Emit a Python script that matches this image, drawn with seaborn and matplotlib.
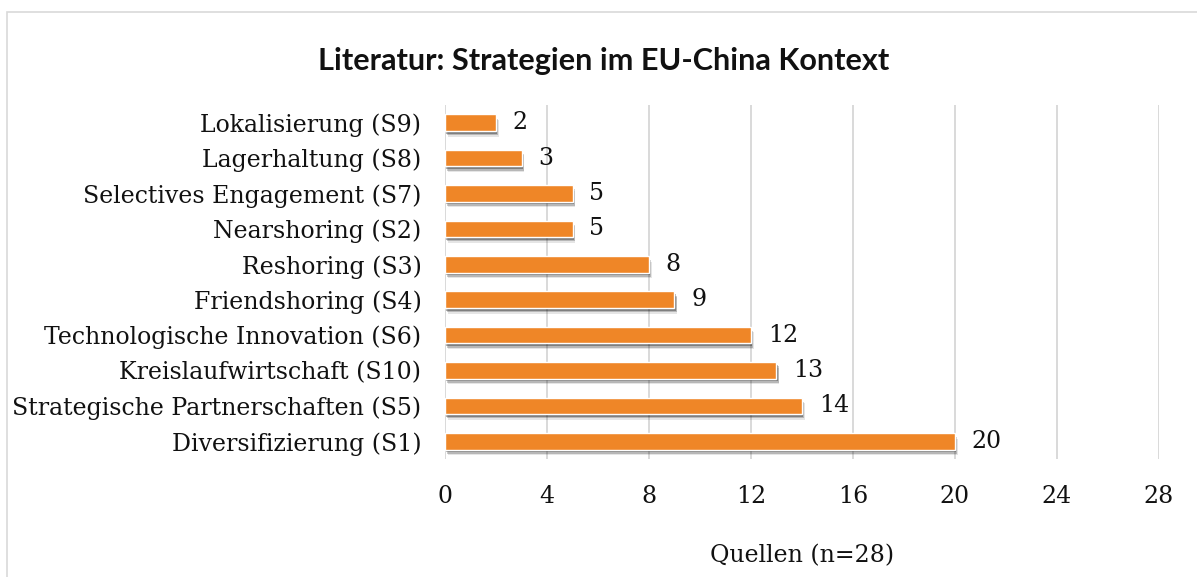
import matplotlib
matplotlib.use("Agg")
import matplotlib.pyplot as plt
import matplotlib.patheffects as pe
from matplotlib.patches import Rectangle
import pandas as pd
import seaborn as sns

# data, top to bottom as in the chart
strategies = [
    "Lokalisierung (S9)",
    "Lagerhaltung (S8)",
    "Selectives Engagement (S7)",
    "Nearshoring (S2)",
    "Reshoring (S3)",
    "Friendshoring (S4)",
    "Technologische Innovation (S6)",
    "Kreislaufwirtschaft (S10)",
    "Strategische Partnerschaften (S5)",
    "Diversifizierung (S1)",
]
sources = [2, 3, 5, 5, 8, 9, 12, 13, 14, 20]
x_ticks = [0, 4, 8, 12, 16, 20, 24, 28]

df = pd.DataFrame({"strategy": strategies, "count": sources})

sns.set_theme(style="white")
plt.rcParams["font.family"] = ["DejaVu Serif"]

fs = 17
txt = "#111111"

fig = plt.figure(figsize=(11.97, 5.77), dpi=100)
ax = fig.add_axes([445 / 1197, 118 / 577, 714 / 1197, 354 / 577])

ax.grid(axis="x", color="#D9D9D9", linewidth=1.4, zorder=0)
ax.set_axisbelow(True)

sns.barplot(data=df, x="count", y="strategy", color="#EF8627",
            saturation=1, width=0.47, ax=ax, zorder=3)

# soft drop shadow under the bars
shadow = [
    pe.SimplePatchShadow(offset=(2.0, -4.0), shadow_rgbFace="#000000", alpha=0.10),
    pe.SimplePatchShadow(offset=(1.5, -3.0), shadow_rgbFace="#000000", alpha=0.20),
    pe.SimplePatchShadow(offset=(1.0, -1.8), shadow_rgbFace="#000000", alpha=0.30),
    pe.Normal(),
]
for bar in ax.patches:
    bar.set_path_effects(shadow)

for i, v in enumerate(sources):
    ax.annotate(str(v), xy=(v, i), xytext=(12, 0), textcoords="offset points",
                va="center", ha="left", fontsize=fs, color=txt)

ax.set_xlim(0, 28)
ax.set_ylim(len(strategies) - 0.5, -0.5)
ax.set_xticks(x_ticks)
ax.tick_params(axis="x", length=0, pad=19, labelsize=fs, colors=txt)
ax.tick_params(axis="y", length=0, pad=17, labelsize=fs, colors=txt)
for s in ax.spines.values():
    s.set_visible(False)
ax.set_ylabel("")
ax.set_xlabel("Quellen (n=28)", fontsize=fs, color=txt, labelpad=26)

fig.text(0.504, 0.895, "Literatur: Strategien im EU-China Kontext",
         ha="center", va="center", fontsize=22.1, fontweight="bold",
         family=["Lato", "DejaVu Sans"], color=txt)

fig.patches.append(Rectangle((7 / 1197, -0.1), 1.2, (577 - 12) / 577 + 0.1,
                             transform=fig.transFigure, fill=False,
                             edgecolor="#D9D9D9", linewidth=1.2))

fig.savefig("out.png", dpi=100)
